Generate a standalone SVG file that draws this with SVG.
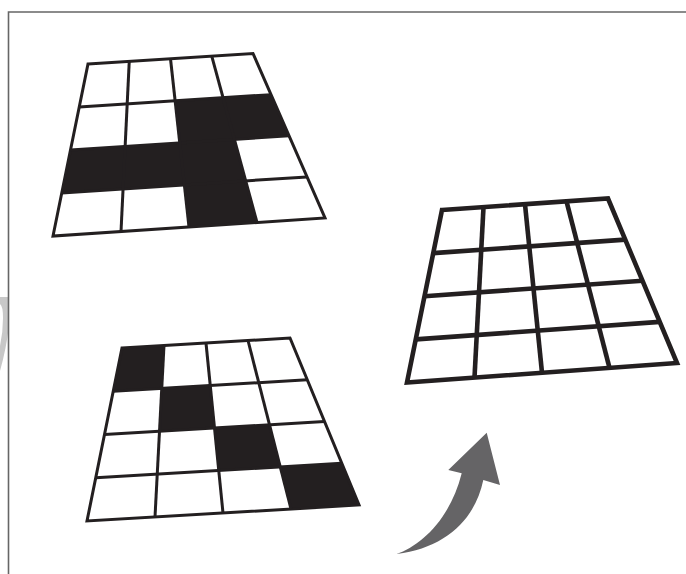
<svg xmlns="http://www.w3.org/2000/svg" width="686" height="574" viewBox="0 0 686 574">
  <style>
    .cell { fill: #231f20; stroke: none; }
    .g1 { fill: none; stroke: #231f20; stroke-width: 3; stroke-linejoin: miter; }
    .g3 { fill: none; stroke: #231f20; stroke-width: 4.6; stroke-linejoin: miter; }
    .frame { fill: none; stroke: #666666; stroke-width: 1.6; }
    .arrow { fill: #656466; stroke: none; }
    .ghost { fill: #c8c8c8; stroke: none; }
  </style>
  <rect width="686" height="574" fill="#ffffff"/>

  <path class="ghost" d="M0,297 L9,297 L9,326 Q6,350 0,371 L0,346 Q3,332 3,318 Q3,306 0,304 Z"/>
  <path class="frame" d="M8.5,574 V12 H686"/>

  <g id="grid-top-left">
    <polygon class="cell" points="175.13,100.81 271,94.63 289,135.75 179.75,142.88"/>
    <polygon class="cell" points="70.5,150 234.38,139.31 245.69,180.91 61.75,193"/>
    <polygon class="cell" points="179.75,142.88 234.38,139.31 257,222.5 189,227"/>
    <polygon class="g1" points="88,64 253,53.5 325,218 53,236"/>
    <line class="g1" x1="79.25" y1="107" x2="271" y2="94.63"/>
    <line class="g1" x1="70.5" y1="150" x2="289" y2="135.75"/>
    <line class="g1" x1="61.75" y1="193" x2="307" y2="176.88"/>
    <line class="g1" x1="129.25" y1="61.38" x2="121" y2="231.5"/>
    <line class="g1" x1="170.5" y1="58.75" x2="189" y2="227"/>
    <line class="g1" x1="211.75" y1="56.13" x2="257" y2="222.5"/>
  </g>

  <g id="grid-bottom-left">
    <polygon class="cell" points="122,348 164,345.5 161.75,388.38 113.25,391.25"/>
    <polygon class="cell" points="161.75,388.38 210.25,385.5 214.5,428 159.5,431.25"/>
    <polygon class="cell" points="214.5,428 269.5,424.75 280.25,466.88 218.75,470.5"/>
    <polygon class="cell" points="280.25,466.88 341.75,463.25 359,505 291,509"/>
    <polygon class="g1" points="122,348 290,338 359,505 87,521"/>
    <line class="g1" x1="113.25" y1="391.25" x2="307.25" y2="379.75"/>
    <line class="g1" x1="104.5" y1="434.5" x2="324.5" y2="421.5"/>
    <line class="g1" x1="95.75" y1="477.75" x2="341.75" y2="463.25"/>
    <line class="g1" x1="164" y1="345.5" x2="155" y2="517"/>
    <line class="g1" x1="206" y1="343" x2="223" y2="513"/>
    <line class="g1" x1="248" y1="340.5" x2="291" y2="509"/>
  </g>

  <g id="grid-right">
    <polygon class="g3" points="442,210 608,198.5 677,363 407,382.5"/>
    <line class="g3" x1="433.25" y1="253.13" x2="625.25" y2="239.63"/>
    <line class="g3" x1="424.5" y1="296.25" x2="642.5" y2="280.75"/>
    <line class="g3" x1="415.75" y1="339.38" x2="659.75" y2="321.88"/>
    <line class="g3" x1="483.5" y1="207.13" x2="474.5" y2="377.63"/>
    <line class="g3" x1="525" y1="204.25" x2="542" y2="372.75"/>
    <line class="g3" x1="566.5" y1="201.38" x2="609.5" y2="367.88"/>
  </g>

  <g id="connectors">
    <path class="arrow" d="M396.7,554 C420,546 450,520 461.7,473.3 L448.3,470 L486.7,432.7 L500,485 L483.3,480 C475,520 445,548 396.7,554 Z"/>
  </g>
</svg>
